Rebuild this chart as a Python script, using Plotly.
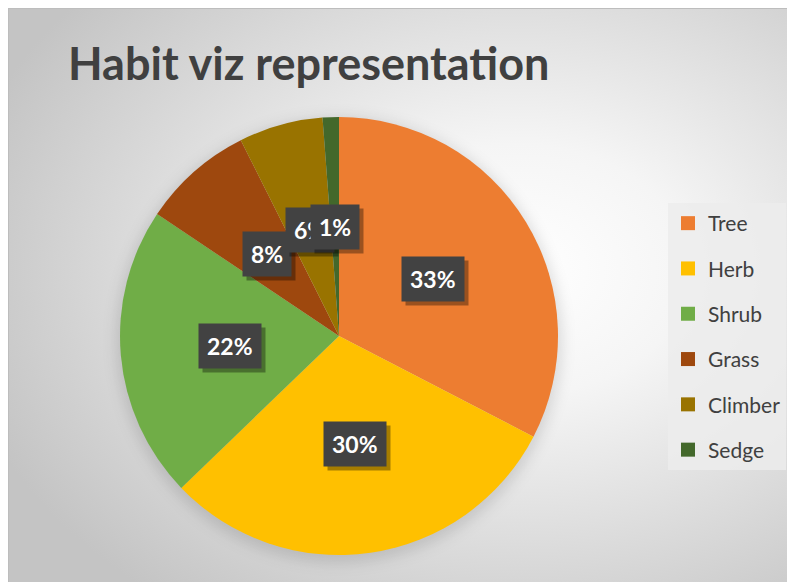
import base64
import math
import plotly.graph_objects as go

# ---- data ----
categories = ["Tree", "Herb", "Shrub", "Grass", "Climber", "Sedge"]
values = [32.6, 30.2, 21.6, 8.2, 6.2, 1.2]
colors = ["#ED7D31", "#FFC000", "#70AD47", "#9E480E", "#997300", "#43682B"]
title_text = "Habit viz representation"

# ---- layout constants (pixels, in page coordinates) ----
W, H = 795, 582
OFF = 8  # page body margin offsets the figure
CX, CY, R = 339, 336, 219
TEXT_COLOR = "#404040"
FONT = "Lato"


def fx(px):
    return (px - OFF) / W


def fy(py):
    return 1 - (py - OFF) / H


# background: radial gradient panel with a soft shadow behind the pie
bw, bh = W, H
svg = f'''<svg xmlns="http://www.w3.org/2000/svg" width="{bw}" height="{bh}" viewBox="0 0 {bw} {bh}">
<defs>
<radialGradient id="g" cx="0.64" cy="0.45" r="0.72" fx="0.64" fy="0.45">
<stop offset="0" stop-color="#ffffff"/>
<stop offset="0.3" stop-color="#f5f5f5"/>
<stop offset="1" stop-color="#c4c4c4"/>
</radialGradient>
<filter id="b" x="-20%" y="-20%" width="140%" height="140%"><feGaussianBlur stdDeviation="7"/></filter>
</defs>
<rect x="0" y="0" width="{bw}" height="{bh}" fill="url(#g)"/>
<line x1="0.5" y1="0" x2="0.5" y2="{bh}" stroke="#bdbdbd" stroke-width="1"/>
<line x1="0" y1="0.5" x2="{bw}" y2="0.5" stroke="#bdbdbd" stroke-width="1"/>
<circle cx="{CX-OFF}" cy="{CY-OFF+4}" r="{R+4}" fill="#000" fill-opacity="0.12" filter="url(#b)"/>
</svg>'''
svg_uri = "data:image/svg+xml;base64," + base64.b64encode(svg.encode()).decode()

fig = go.Figure()

fig.add_trace(go.Pie(
    labels=categories,
    values=values,
    marker=dict(colors=colors, line=dict(width=0)),
    sort=False,
    direction="clockwise",
    rotation=0,
    textinfo="none",
    showlegend=False,
    domain=dict(x=[fx(CX - R), fx(CX + R)], y=[fy(CY + R), fy(CY - R)]),
    hovertemplate="%{label}: %{percent}<extra></extra>",
))

# legend entries (separate groups so the spacing can be set)
for cat, col in zip(categories, colors):
    fig.add_trace(go.Scatter(
        x=[None], y=[None], mode="markers", name=cat, legendgroup=cat,
        marker=dict(symbol="square", size=14, color=col),
        hoverinfo="skip", showlegend=True,
    ))

# data labels: dark boxes at slice mid-angles
total = sum(values)
annotations = []
cum = 0.0
for v in values:
    mid = (cum + v / 2) / total * 2 * math.pi
    cum += v
    px = CX + 0.5 * R * math.sin(mid)
    py = CY - 0.5 * R * math.cos(mid)
    txt = f"{round(v / total * 100)}%"
    common = dict(x=fx(px), y=fy(py), xref="paper", yref="paper", showarrow=False,
                  xanchor="center", yanchor="middle", borderpad=8)
    # shadow
    annotations.append(dict(
        **common,
        text=f"<b>{txt}</b>", font=dict(family=FONT, size=23, color="rgba(0,0,0,0)"),
        bgcolor="rgba(0,0,0,0.35)", xshift=4, yshift=-4,
    ))
    annotations.append(dict(
        **common,
        text=f"<b>{txt}</b>", font=dict(family=FONT, size=23, color="white"),
        bgcolor="#424242",
    ))

fig.update_layout(
    width=W, height=H,
    margin=dict(l=0, r=0, t=0, b=0),
    paper_bgcolor="white",
    plot_bgcolor="rgba(0,0,0,0)",
    xaxis=dict(visible=False),
    yaxis=dict(visible=False),
    title=dict(
        text=f"<b>{title_text}</b>",
        font=dict(family=FONT, size=45, color=TEXT_COLOR),
        x=fx(68), xanchor="left", xref="container",
        y=fy(64), yanchor="middle", yref="container",
    ),
    legend=dict(
        x=fx(668), y=fy(203), xanchor="left", yanchor="top",
        bgcolor="rgba(236,236,236,0.85)",
        font=dict(family=FONT, size=21, color=TEXT_COLOR),
        tracegroupgap=15,
        itemclick=False, itemdoubleclick=False,
    ),
    annotations=annotations,
    images=[dict(
        source=svg_uri, xref="paper", yref="paper",
        x=0, y=1, sizex=1, sizey=1,
        xanchor="left", yanchor="top", sizing="stretch", layer="below",
    )],
    showlegend=True,
)

fig.write_html("out.html")
